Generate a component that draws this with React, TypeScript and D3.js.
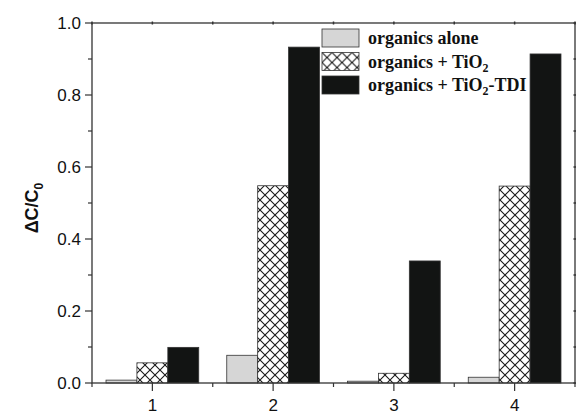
import React, { useEffect, useRef } from "react";
import * as d3 from "d3";

// chart data
const groups = ["1", "2", "3", "4"];
const seriesNames = ["organics alone", "organics + TiO2", "organics + TiO2-TDI"];
const aloneValues = [0.008, 0.077, 0.005, 0.016];
const tio2Values = [0.056, 0.548, 0.027, 0.547];
const tdiValues = [0.099, 0.933, 0.339, 0.914];
const yTicks = [0, 0.2, 0.4, 0.6, 0.8, 1.0];
const yMinorTicks = [0.1, 0.3, 0.5, 0.7, 0.9];

const App = () => {
  const svgRef = useRef<SVGSVGElement>(null);

  useEffect(() => {
    const width = 576;
    const height = 414;
    const margin = { left: 92, right: 1, top: 23, bottom: 31 };
    const svg = d3.select(svgRef.current);
    svg.selectAll("*").remove();

    const defs = svg.append("defs");
    const pat = defs
      .append("pattern")
      .attr("id", "xhatch")
      .attr("patternUnits", "userSpaceOnUse")
      .attr("width", 10)
      .attr("height", 10);
    pat.append("rect").attr("width", 10).attr("height", 10).attr("fill", "#fff");
    pat
      .append("path")
      .attr("d", "M0,0L10,10M10,0L0,10")
      .attr("stroke", "#1a1a1a")
      .attr("stroke-width", 1.1);

    const x0 = d3
      .scaleBand()
      .domain(groups)
      .range([margin.left, width - margin.right])
      .paddingInner(0.232)
      .paddingOuter(0.116);

    const x1 = d3
      .scaleBand()
      .domain(seriesNames)
      .range([0, x0.bandwidth()]);

    const y = d3
      .scaleLinear()
      .domain([0, 1])
      .range([height - margin.bottom, margin.top]);

    const fills = ["#d6d6d6", "url(#xhatch)", "#121413"];
    const seriesValues = [aloneValues, tio2Values, tdiValues];

    // bars
    seriesNames.forEach((name, si) => {
      svg
        .append("g")
        .selectAll("rect")
        .data(seriesValues[si])
        .enter()
        .append("rect")
        .attr("x", (d, i) => (x0(groups[i]) as number) + (x1(name) as number))
        .attr("y", (d) => y(d))
        .attr("width", x1.bandwidth())
        .attr("height", (d) => y(0) - y(d))
        .attr("fill", fills[si])
        .attr("stroke", "#333")
        .attr("stroke-width", 0.8);
    });

    const axisColor = "#333";
    const plotLeft = margin.left;
    const plotRight = width - margin.right;
    const plotBottom = y(0);
    const plotTop = y(1);
    const step = x0.step();
    const centers = groups.map((g) => (x0(g) as number) + x0.bandwidth() / 2);
    const minorX = d3.range(0, groups.length + 1).map((i) => centers[0] - step / 2 + i * step);

    // frame
    svg
      .append("rect")
      .attr("x", plotLeft)
      .attr("y", plotTop)
      .attr("width", plotRight - plotLeft)
      .attr("height", plotBottom - plotTop)
      .attr("fill", "none")
      .attr("stroke", axisColor)
      .attr("stroke-width", 1.3);

    // left axis
    const left = svg.append("g").attr("transform", `translate(${plotLeft},0)`);
    left
      .selectAll(".maj")
      .data(yTicks)
      .enter()
      .append("line")
      .attr("x1", -7)
      .attr("x2", 0)
      .attr("y1", (d) => y(d))
      .attr("y2", (d) => y(d))
      .attr("stroke", axisColor)
      .attr("stroke-width", 1.2);
    left
      .selectAll(".min")
      .data(yMinorTicks)
      .enter()
      .append("line")
      .attr("x1", -4)
      .attr("x2", 0)
      .attr("y1", (d) => y(d))
      .attr("y2", (d) => y(d))
      .attr("stroke", axisColor)
      .attr("stroke-width", 1.2);
    left
      .selectAll("text")
      .data(yTicks)
      .enter()
      .append("text")
      .attr("x", -11)
      .attr("y", (d) => y(d))
      .attr("dy", "0.36em")
      .attr("text-anchor", "end")
      .attr("font-family", "Liberation Sans, Arial, sans-serif")
      .attr("font-size", 17)
      .attr("fill", "#111")
      .text((d) => d3.format(".1f")(d));

    // bottom axis
    const bottom = svg.append("g").attr("transform", `translate(0,${plotBottom})`);
    bottom
      .selectAll(".maj")
      .data(centers)
      .enter()
      .append("line")
      .attr("x1", (d) => d)
      .attr("x2", (d) => d)
      .attr("y1", 0)
      .attr("y2", 8)
      .attr("stroke", axisColor)
      .attr("stroke-width", 1.2);
    bottom
      .selectAll(".min")
      .data(minorX)
      .enter()
      .append("line")
      .attr("x1", (d) => d)
      .attr("x2", (d) => d)
      .attr("y1", 0)
      .attr("y2", 4)
      .attr("stroke", axisColor)
      .attr("stroke-width", 1.2);
    bottom
      .selectAll("text")
      .data(groups)
      .enter()
      .append("text")
      .attr("x", (d, i) => centers[i])
      .attr("y", 28)
      .attr("text-anchor", "middle")
      .attr("font-family", "Liberation Sans, Arial, sans-serif")
      .attr("font-size", 17)
      .attr("fill", "#111")
      .text((d) => d);

    // top axis small ticks
    svg
      .append("g")
      .selectAll("line")
      .data(centers.concat(minorX))
      .enter()
      .append("line")
      .attr("x1", (d) => d)
      .attr("x2", (d) => d)
      .attr("y1", plotTop - 1.5)
      .attr("y2", plotTop + 1.5)
      .attr("stroke", axisColor)
      .attr("stroke-width", 1.5);

    // right axis small ticks
    svg
      .append("g")
      .selectAll("line")
      .data(yTicks.concat(yMinorTicks))
      .enter()
      .append("line")
      .attr("x1", plotRight - 1.5)
      .attr("x2", plotRight + 1.5)
      .attr("y1", (d) => y(d))
      .attr("y2", (d) => y(d))
      .attr("stroke", axisColor)
      .attr("stroke-width", 1.5);

    // y label
    const yl = svg
      .append("text")
      .attr("transform", `translate(38,${(plotTop + plotBottom) / 2 + 5}) rotate(-90)`)
      .attr("text-anchor", "middle")
      .attr("font-family", "Liberation Sans, Arial, sans-serif")
      .attr("font-weight", "bold")
      .attr("font-size", 18)
      .attr("fill", "#111");
    yl.append("tspan").text("ΔC/C");
    yl.append("tspan").attr("font-size", 12).attr("dy", 5).text("0");

    // legend
    const legend = svg.append("g").attr("transform", "translate(322,29)");
    const rowH = 23.5;
    seriesNames.forEach((name, i) => {
      const row = legend.append("g").attr("transform", `translate(0,${i * rowH})`);
      row
        .append("rect")
        .attr("width", 37)
        .attr("height", 18)
        .attr("fill", fills[i])
        .attr("stroke", "#333")
        .attr("stroke-width", 0.8);
      const t = row
        .append("text")
        .attr("x", 46)
        .attr("y", 15)
        .attr("font-family", "Liberation Serif, Times New Roman, serif")
        .attr("font-weight", "bold")
        .attr("font-size", 18)
        .attr("fill", "#111");
      const parts = name.split("TiO2");
      if (parts.length === 1) {
        t.text(name);
      } else {
        t.append("tspan").text(parts[0] + "TiO");
        t.append("tspan").attr("font-size", 12).attr("dy", 4).text("2");
        if (parts[1]) t.append("tspan").attr("dy", -4).text(parts[1]);
      }
    });
  }, []);

  return (
    <svg
      ref={svgRef}
      width={576}
      height={414}
      style={{ position: "absolute", left: 0, top: 0, background: "#fff" }}
    />
  );
};

export default App;
